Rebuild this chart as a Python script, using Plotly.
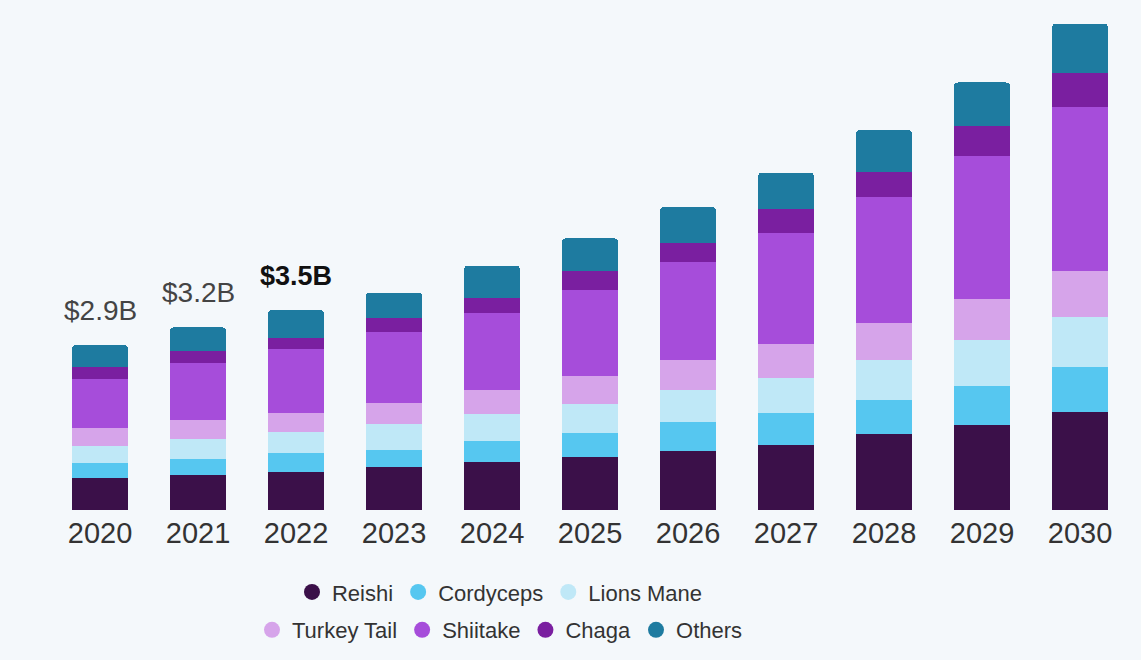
import plotly.graph_objects as go

years = ["2020", "2021", "2022", "2023", "2024", "2025", "2026", "2027", "2028", "2029", "2030"]

reishi = [0.56, 0.61, 0.66, 0.75, 0.84, 0.93, 1.03, 1.14, 1.33, 1.49, 1.71]
cordyceps = [0.26, 0.28, 0.33, 0.31, 0.37, 0.42, 0.51, 0.56, 0.59, 0.68, 0.80]
lions_mane = [0.30, 0.35, 0.38, 0.45, 0.47, 0.51, 0.56, 0.61, 0.70, 0.80, 0.87]
turkey_tail = [0.31, 0.33, 0.33, 0.37, 0.42, 0.49, 0.52, 0.59, 0.66, 0.72, 0.80]
shiitake = [0.87, 1.00, 1.12, 1.24, 1.36, 1.50, 1.73, 1.96, 2.20, 2.52, 2.88]
chaga = [0.21, 0.21, 0.19, 0.24, 0.26, 0.33, 0.33, 0.42, 0.45, 0.51, 0.59]
others = [0.38, 0.42, 0.49, 0.45, 0.56, 0.58, 0.63, 0.63, 0.73, 0.77, 0.87]

series_names = ["Reishi", "Cordyceps", "Lions Mane", "Turkey Tail", "Shiitake", "Chaga", "Others"]
series_values = [reishi, cordyceps, lions_mane, turkey_tail, shiitake, chaga, others]
series_colors = ["#3B1049", "#56C7F0", "#BFE8F7", "#D6A4EA", "#A64DDA", "#7A1FA0", "#1E7BA0"]

label_years = ["2020", "2021", "2022"]
label_texts = ["$2.9B", "$3.2B", "$3.5B"]

fig = go.Figure()

for name, vals, col in zip(series_names, series_values, series_colors):
    fig.add_trace(go.Bar(x=years, y=vals, name=name, marker_color=col,
                         marker_line_width=0, showlegend=False, hoverinfo="skip"))

# legend entries with circle markers, split into two rows (two legends), on a hidden axis pair
for i, (name, col) in enumerate(zip(series_names, series_colors)):
    fig.add_trace(go.Scatter(x=[0], y=[None], mode="markers", name=name,
                             xaxis="x2", yaxis="y2", hoverinfo="skip",
                             marker=dict(color=col, size=17, symbol="circle"),
                             legend="legend" if i < 3 else "legend2"))

totals = [sum(v[i] for v in series_values) for i in range(len(years))]

for yr, txt in zip(label_years, label_texts):
    idx = years.index(yr)
    bold = (txt == "$3.5B")
    fig.add_annotation(x=idx, y=totals[idx], xref="x", yref="y",
                       text=f"<b>{txt}</b>" if bold else txt,
                       showarrow=False, yanchor="bottom", yshift=17,
                       font=dict(family="Liberation Sans", size=27 if bold else 28,
                                 color="#111111" if bold else "#444444"))

legend_font = dict(family="Liberation Sans", size=22, color="#333333")

fig.update_layout(
    width=1141, height=660,
    margin=dict(l=51, r=12, t=10, b=149),
    paper_bgcolor="#F4F8FB", plot_bgcolor="#F4F8FB",
    barmode="stack", bargap=0.43, barcornerradius=4,
    xaxis=dict(type="category", categoryorder="array", categoryarray=years,
               range=[-0.5, len(years) - 0.5],
               showgrid=False, zeroline=False, showline=False,
               ticks="", ticklabelstandoff=3,
               tickfont=dict(family="Liberation Sans", size=29, color="#333333")),
    yaxis=dict(range=[0, 8.76], visible=False),
    xaxis2=dict(visible=False, overlaying="x", range=[-1, 1]),
    yaxis2=dict(visible=False, overlaying="y", range=[-1, 1]),
    legend=dict(orientation="h", x=0.4165, xanchor="center", y=-0.162, yanchor="middle",
                traceorder="normal",
                font=legend_font, bgcolor="rgba(0,0,0,0)", itemwidth=30),
    legend2=dict(orientation="h", x=0.4165, xanchor="center", y=-0.2375, yanchor="middle",
                 traceorder="normal",
                 font=legend_font, bgcolor="rgba(0,0,0,0)", itemwidth=30),
)

fig.write_html("out.html", config={"displayModeBar": False},
               post_script="document.body.style.margin='0';")
